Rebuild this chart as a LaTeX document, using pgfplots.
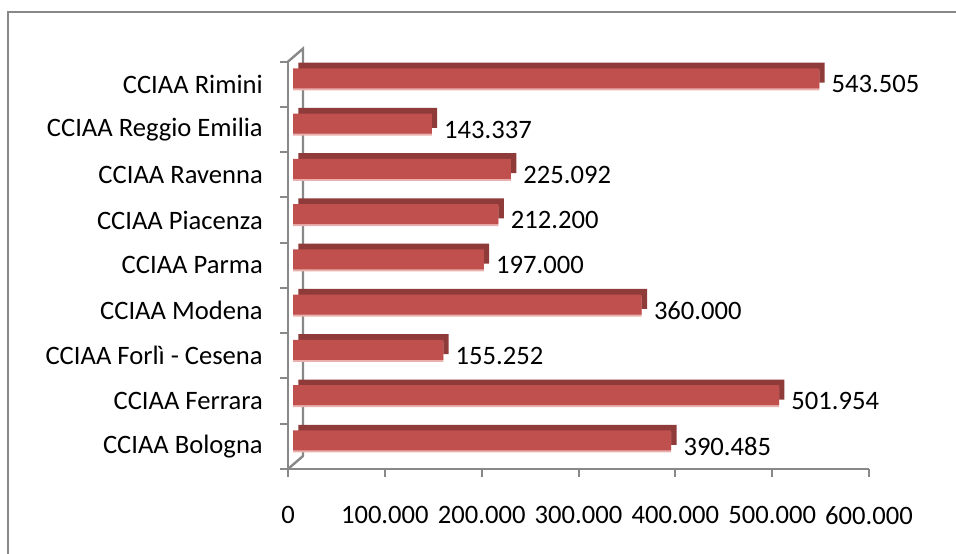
\documentclass[border=0pt]{standalone}
\usepackage{pgfplots}
\pgfplotsset{compat=1.18}
\usepackage{fontspec}
\setmainfont{Carlito}
\definecolor{barred}{HTML}{C0504D}
\definecolor{bardark}{HTML}{8E3B39}
\definecolor{barpink}{HTML}{E9B0AE}
\definecolor{axgray}{HTML}{888888}
\begin{document}
\fontsize{13.3}{16}\selectfont
\begin{tikzpicture}
\useasboundingbox (0,0) rectangle (478pt,276.5pt);
\draw[axgray, line width=1pt] (4pt,-20pt) -- (4pt,270.5pt) -- (500pt,270.5pt);
\begin{axis}[
  at={(144pt,42pt)}, anchor=south west,
  scale only axis, width=290.5pt, height=203.7pt,
  xbar, bar width=10pt, bar shift=0pt,
  xmin=0, xmax=600000, ymin=-0.5, ymax=8.5,
  axis lines*=left,
  axis line style={axgray, line width=1.2pt},
  xtick={0,100000,200000,300000,400000,500000,600000},
  scaled x ticks=false,
  xticklabel style={yshift=-10pt, /pgf/number format/.cd, fixed, precision=0, 1000 sep={.}, assume math mode=true},
  xticklabel={\pgfmathprintnumber{\tick}},
  tick align=outside,
  major tick length=4pt,
  minor tick length=4pt,
  x tick style={axgray, line width=1pt},
  ytick={0,1,2,3,4,5,6,7,8},
  yticklabels={CCIAA Bologna, CCIAA Ferrara, CCIAA Forlì - Cesena, CCIAA Modena, CCIAA Parma, CCIAA Piacenza, CCIAA Ravenna, CCIAA Reggio Emilia, CCIAA Rimini},
  major y tick style={draw=none},
  minor ytick={-0.5,0.5,1.5,2.5,3.5,4.5,5.5,6.5,7.5,8.5},
  minor y tick style={axgray, line width=1pt},
  yticklabel style={xshift=-4pt},
  clip=false,
]
\draw[axgray, line width=1.2pt] (axis cs:0,8.5) -- ([xshift=7.5pt,yshift=6.5pt]axis cs:0,8.5) -- ([xshift=7.5pt,yshift=6.5pt]axis cs:0,-0.5) -- (axis cs:0,-0.5);
\addplot[draw=none, fill=bardark, xshift=5.2pt, yshift=5.8pt] coordinates {
(390485,0) (501954,1) (155252,2) (360000,3) (197000,4) (212200,5) (225092,6) (143337,7) (543505,8)};
\addplot[draw=none, fill=barpink, xshift=2.5pt, yshift=2pt] coordinates {
(390485,0) (501954,1) (155252,2) (360000,3) (197000,4) (212200,5) (225092,6) (143337,7) (543505,8)};
\addplot[draw=none, fill=barred, xshift=2.5pt, yshift=3pt,
  nodes near coords,
  nodes near coords style={anchor=west, inner sep=0pt, xshift=6pt, yshift=-3pt, text=black, /pgf/number format/.cd, fixed, precision=0, 1000 sep={.}, assume math mode=true}] coordinates {
(390485,0) (501954,1) (155252,2) (360000,3) (197000,4) (212200,5) (225092,6) (143337,7) (543505,8)};
\end{axis}
\end{tikzpicture}
\end{document}
